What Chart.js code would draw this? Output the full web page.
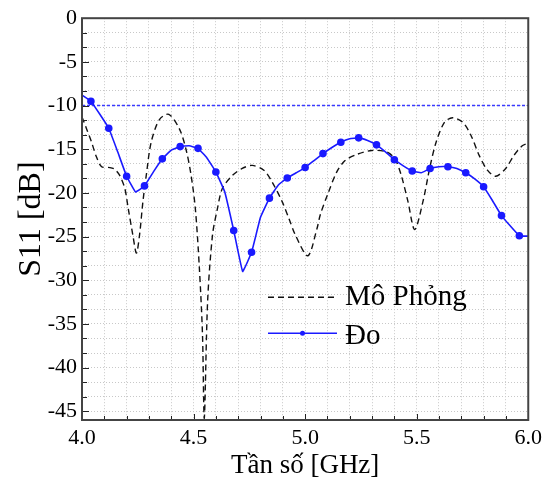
<!DOCTYPE html>
<html>
<head>
<meta charset="utf-8">
<script src="https://cdn.jsdelivr.net/npm/chart.js@4.4.1/dist/chart.umd.min.js"></script>
<style>
  html, body { margin: 0; padding: 0; background: #fff; }
</style>
</head>
<body>
<canvas id="s11Chart" width="547" height="482"></canvas>
<script>
// Measured S11 ("Đo"), one sample every 0.04 GHz
const measFreq = [4.00, 4.04, 4.08, 4.12, 4.16, 4.20, 4.24, 4.28, 4.32, 4.36,
    4.40, 4.44, 4.48, 4.52, 4.56, 4.60, 4.64, 4.68, 4.72, 4.76,
    4.80, 4.84, 4.88, 4.92, 4.96, 5.00, 5.04, 5.08, 5.12, 5.16,
    5.20, 5.24, 5.28, 5.32, 5.36, 5.40, 5.44, 5.48, 5.52, 5.56,
    5.60, 5.64, 5.68, 5.72, 5.76, 5.80, 5.84, 5.88, 5.92, 5.96, 6.00];
const measS11 = [-8.8, -9.5, -11.0, -12.6, -15.3, -18.1, -19.9, -19.2, -17.6, -16.1,
    -15.1, -14.7, -14.6, -14.9, -16.0, -17.6, -19.9, -24.3, -29.0, -26.8,
    -22.8, -20.6, -19.1, -18.3, -17.7, -17.1, -16.3, -15.5, -14.8, -14.2,
    -13.8, -13.7, -14.0, -14.5, -15.3, -16.2, -16.9, -17.5, -17.7, -17.2,
    -17.0, -17.0, -17.2, -17.7, -18.4, -19.3, -20.9, -22.6, -23.8, -24.9, -24.95];

// Simulated S11 ("Mô Phỏng")
const simFreq = [4.000, 4.021, 4.043, 4.065, 4.088, 4.125, 4.147, 4.169, 4.192, 4.206,
    4.229, 4.244, 4.258, 4.273, 4.288, 4.310, 4.347, 4.389, 4.437, 4.466,
    4.489, 4.508, 4.526, 4.540, 4.548, 4.563, 4.585, 4.607, 4.629, 4.674,
    4.718, 4.763, 4.815, 4.852, 4.897, 4.927, 4.956, 5.012, 5.053, 5.068,
    5.105, 5.142, 5.179, 5.231, 5.298, 5.364, 5.402, 5.431, 5.461, 5.491,
    5.528, 5.558, 5.587, 5.625, 5.661, 5.706, 5.743, 5.780, 5.817, 5.854,
    5.899, 5.936, 5.973, 6.000];
const simS11 = [-11.3, -12.7, -14.2, -15.9, -17.0, -17.1, -17.3, -18.0, -19.5, -21.6,
    -25.0, -26.9, -24.8, -21.0, -18.0, -14.2, -11.6, -11.0, -12.7, -15.0,
    -18.0, -21.8, -28.6, -36.2, -45.8, -32.4, -24.8, -21.8, -19.5, -18.0,
    -17.2, -16.85, -17.4, -18.75, -21.0, -22.9, -24.8, -27.2, -24.1, -22.5,
    -19.9, -17.6, -16.3, -15.6, -15.15, -15.3, -16.1, -18.0, -21.0, -24.2,
    -21.0, -17.2, -14.2, -11.9, -11.4, -11.9, -13.4, -15.7, -17.4, -18.1,
    -17.2, -15.7, -14.6, -14.3];

// -10 dB reference level
const refLevel = -10;

// Axis tick labels and number of minor steps between them
const xTickLabels = [4.0, 4.5, 5.0, 5.5, 6.0];
const yTickLabels = [0, -5, -10, -15, -20, -25, -30, -35, -40, -45];
const xMinorSteps = 5;
const yMinorSteps = 3;

const FONT = '"Liberation Serif", "Times New Roman", serif';

function withMinor(majors, steps) {
    const out = [];
    for (let i = 0; i < majors.length; i++) {
        out.push({ value: majors[i], major: true });
        if (i < majors.length - 1) {
            const d = (majors[i + 1] - majors[i]) / steps;
            for (let k = 1; k < steps; k++) out.push({ value: majors[i] + d * k, major: false });
        }
    }
    return out;
}

// Frame, inward tick marks and the legend drawn inside the plot
const framePlugin = {
    id: 'frame',
    afterDatasetsDraw(chart) {
        const { ctx, chartArea: a, scales: { x, y } } = chart;
        ctx.save();
        ctx.strokeStyle = '#222';
        ctx.lineWidth = 1;
        ctx.beginPath();
        x.ticks.forEach(t => {
            const px = Math.round(x.getPixelForValue(t.value)) + 0.5;
            ctx.moveTo(px, a.bottom);
            ctx.lineTo(px, a.bottom - (t.major ? 6 : 4));
        });
        y.ticks.forEach(t => {
            const py = Math.round(y.getPixelForValue(t.value)) + 0.5;
            ctx.moveTo(a.left, py);
            ctx.lineTo(a.left + (t.major ? 7 : 5), py);
        });
        ctx.stroke();

        ctx.strokeStyle = '#444';
        ctx.lineWidth = 2;
        ctx.strokeRect(a.left, a.top, a.right - a.left, a.bottom - a.top);

        // legend
        const sim = chart.data.datasets[1];
        const meas = chart.data.datasets[0];
        const lx0 = a.left + 186, lx1 = a.left + 255, tx = a.left + 263;
        const y1 = a.top + 279, y2 = a.top + 315;
        ctx.lineWidth = sim.borderWidth;
        ctx.strokeStyle = sim.borderColor;
        ctx.setLineDash(sim.borderDash);
        ctx.beginPath(); ctx.moveTo(lx0, y1); ctx.lineTo(lx1, y1); ctx.stroke();
        ctx.setLineDash([]);
        ctx.lineWidth = meas.borderWidth;
        ctx.strokeStyle = meas.borderColor;
        ctx.beginPath(); ctx.moveTo(lx0, y2); ctx.lineTo(lx1, y2); ctx.stroke();
        ctx.fillStyle = meas.borderColor;
        ctx.beginPath(); ctx.arc((lx0 + lx1) / 2, y2, 2.5, 0, Math.PI * 2); ctx.fill();

        ctx.fillStyle = '#000';
        ctx.font = '29px ' + FONT;
        ctx.textAlign = 'left';
        ctx.textBaseline = 'alphabetic';
        ctx.fillText(sim.label, tx, y1 + 8);
        ctx.fillText(meas.label, tx, y2 + 11);
        ctx.restore();
    }
};

const ctx = document.getElementById('s11Chart').getContext('2d');
const s11Chart = new Chart(ctx, {
    type: 'line',
    data: {
        datasets: [{
            label: 'Đo',
            data: measFreq.map((f, i) => ({ x: f, y: measS11[i] })),
            borderColor: '#1a1aff',
            backgroundColor: '#1a1aff',
            borderWidth: 1.6,
            tension: 0.08,
            pointRadius: c => (c.dataIndex % 2 === 1 ? 3 : 0),
            pointHoverRadius: 0,
            order: 1
        }, {
            label: 'Mô Phỏng',
            data: simFreq.map((f, i) => ({ x: f, y: simS11[i] })),
            borderColor: '#111',
            borderWidth: 1.4,
            borderDash: [6, 4],
            tension: 0.3,
            pointRadius: 0,
            order: 2
        }, {
            label: 'ref',
            data: [{ x: xTickLabels[0], y: refLevel }, { x: xTickLabels[xTickLabels.length - 1], y: refLevel }],
            borderColor: '#3a3aff',
            borderWidth: 1.4,
            borderDash: [3, 2],
            pointRadius: 0,
            order: 3
        }]
    },
    options: {
        responsive: false,
        animation: false,
        devicePixelRatio: 1,
        layout: { padding: { top: 15, right: 16, left: 0, bottom: 0 } },
        plugins: {
            legend: { display: false },
            tooltip: { enabled: false }
        },
        scales: {
            x: {
                type: 'linear',
                min: 4,
                max: 6,
                afterBuildTicks: s => { s.ticks = withMinor(xTickLabels, xMinorSteps); },
                afterFit: s => { s.height = 62; },
                ticks: {
                    autoSkip: false,
                    maxRotation: 0,
                    padding: 5,
                    color: '#000',
                    font: { family: FONT, size: 22 },
                    callback: (v, i, ticks) => (ticks[i].major ? v.toFixed(1) : '')
                },
                grid: { color: '#c8c8c8', lineWidth: 1, drawTicks: false },
                border: { display: false, dash: [1, 2] },
                title: {
                    display: true,
                    text: 'Tần số [GHz]',
                    color: '#000',
                    font: { family: FONT, size: 27 },
                    padding: { top: 0, bottom: 0 }
                }
            },
            y: {
                min: -46,
                max: 0,
                afterBuildTicks: s => { s.ticks = withMinor(yTickLabels, yMinorSteps); },
                afterFit: s => { s.width = 82; },
                ticks: {
                    autoSkip: false,
                    padding: 5,
                    color: '#000',
                    font: { family: FONT, size: 22 },
                    callback: (v, i, ticks) => (ticks[i].major ? String(v) : '')
                },
                grid: { color: '#c8c8c8', lineWidth: 1, drawTicks: false },
                border: { display: false, dash: [1, 2] },
                title: {
                    display: true,
                    text: 'S11 [dB]',
                    color: '#000',
                    font: { family: FONT, size: 32 },
                    padding: { top: 12, bottom: 0 }
                }
            }
        }
    },
    plugins: [framePlugin]
});
</script>
</body>
</html>
